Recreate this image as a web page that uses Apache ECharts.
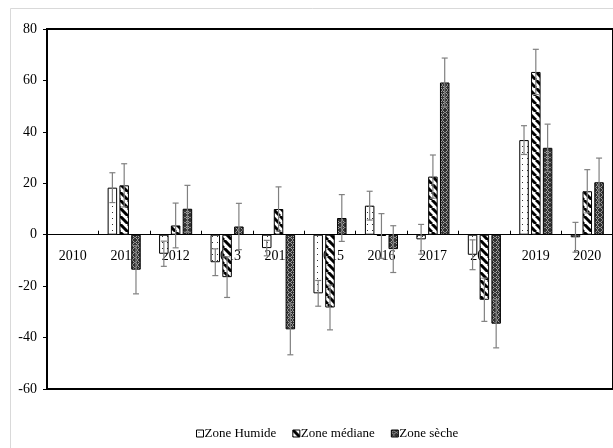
<!DOCTYPE html>
<html>
<head>
<meta charset="utf-8">
<script src="https://cdn.jsdelivr.net/npm/echarts@6/dist/echarts.min.js"></script>
<style>html,body{margin:0;padding:0;background:#fff}#c{width:613px;height:448px}</style>
</head>
<body>
<div id="c"></div>
<script>
const categories = ['2010','2011','2012','2013','2014','2015','2016','2017','2018','2019','2020'];
const yTicks = [-60,-40,-20,0,20,40,60,80];
const seriesNames = ['Zone Humide','Zone médiane','Zone sèche'];
const humide    = [null, 18.3, -7.4, -10.7, -5.2, -22.8, 11.3, -1.8, -7.8, 36.8, -1.0];
const humideErr = [null, 5.8, 4.9, 5.2, 3.0, 5.0, 5.6, 5.8, 5.8, 5.6, 5.8];
const mediane    = [null, 19.2, 3.6, -16.5, 10.0, -28.3, -0.5, 22.6, -25.3, 63.3, 16.9];
const medianeErr = [null, 8.4, 8.7, 7.9, 8.6, 8.7, 8.7, 8.4, 8.4, 8.8, 8.4];
const seche    = [null, -13.6, 10.1, 3.2, -36.8, 6.5, -5.6, 59.2, -34.6, 33.8, 20.4];
const secheErr = [null, 9.4, 9.1, 9.0, 9.9, 9.1, 9.1, 9.5, 9.4, 9.2, 9.4];

function makePattern(w, h, draw){
  const c = document.createElement('canvas'); c.width = w; c.height = h;
  const g = c.getContext('2d'); draw(g, w, h); return c;
}
const patHumide = makePattern(5, 6, (g,w,h)=>{ g.fillStyle='#fff'; g.fillRect(0,0,w,h); g.fillStyle='#333'; g.fillRect(2,2,1,1); });
const patMediane = makePattern(8, 8, (g,w,h)=>{
  g.fillStyle='#fff'; g.fillRect(0,0,w,h);
  g.strokeStyle='#000'; g.lineWidth=3;
  for (let k=-1;k<=1;k++){ g.beginPath(); g.moveTo(k*w, 0); g.lineTo(k*w+w, h); g.stroke(); }
});
const patSeche = makePattern(5, 5, (g,w,h)=>{
  g.fillStyle='#333'; g.fillRect(0,0,w,h);
  g.strokeStyle='#a8a8a8'; g.lineWidth=1;
  g.beginPath(); g.moveTo(2.5,0.5); g.lineTo(4.5,2.5); g.lineTo(2.5,4.5); g.lineTo(0.5,2.5); g.closePath(); g.stroke();
});
const pats = [patHumide, patMediane, patSeche];
const values = [humide, mediane, seche];
const errs = [humideErr, medianeErr, secheErr];

const BW = 9.5, GAP = 2.3;
const font = 'Liberation Serif';

const series = [];
values.forEach((vals, i) => {
  series.push({
    name: seriesNames[i], type: 'bar', data: vals,
    barWidth: BW, barGap: (GAP/BW*100).toFixed(1)+'%',
    itemStyle: { color: {image: pats[i], repeat: 'repeat'}, borderColor: '#000', borderWidth: 1 },
    emphasis: {disabled: true}, z: 2
  });
});
values.forEach((vals, i) => {
  const off = (i - 1) * (BW + GAP);
  series.push({
    type: 'custom', name: 'err' + i, z: 4, silent: true,
    data: vals.map((v, k) => v == null ? [k, null, null] : [k, v, errs[i][k]]),
    renderItem: function(params, api){
      const v = api.value(1), e = api.value(2);
      if (v == null || isNaN(v)) return;
      const k = api.value(0);
      const t = api.coord([k, v + e]), b = api.coord([k, v - e]);
      const x = t[0] + off, cap = 3;
      const st = {stroke: '#808080', lineWidth: 1.2};
      return {type: 'group', children: [
        {type:'line', shape:{x1:x, y1:t[1], x2:x, y2:b[1]}, style: st},
        {type:'line', shape:{x1:x-cap, y1:t[1], x2:x+cap, y2:t[1]}, style: st},
        {type:'line', shape:{x1:x-cap, y1:b[1], x2:x+cap, y2:b[1]}, style: st}
      ]};
    }
  });
});

const chart = echarts.init(document.getElementById('c'), null, {renderer: 'canvas'});
chart.setOption({
  animation: false,
  backgroundColor: '#fff',
  graphic: [{type: 'rect', shape: {x: 10.5, y: 8.5, width: 700, height: 600}, style: {fill: 'none', stroke: '#d9d9d9', lineWidth: 1}, z: -10}],
  grid: {left: 47, top: 29, width: 567, height: 360, show: true, borderColor: '#000', borderWidth: 2, backgroundColor: 'transparent'},
  legend: {
    data: seriesNames, left: 191, top: 422, itemWidth: 7, itemHeight: 7, itemGap: 16, icon: 'rect',
    itemStyle: {borderColor: '#000', borderWidth: 1},
    textStyle: {fontFamily: font, fontSize: 13, color: '#000', padding: [0,0,0,-4]},
    selectedMode: false
  },
  xAxis: {
    type: 'category', data: categories,
    axisLine: {onZero: true, lineStyle: {color: '#000', width: 1.2}},
    axisTick: {show: true, inside: true, length: 4, lineStyle: {color: '#000'}},
    axisLabel: {fontFamily: font, fontSize: 14, color: '#000', margin: -140},
    splitLine: {show: false}
  },
  yAxis: {
    type: 'value', min: -60, max: 80, interval: 20,
    axisLine: {show: true, lineStyle: {color: '#000', width: 2}},
    axisTick: {show: true, inside: false, length: 4, lineStyle: {color: '#000'}},
    axisLabel: {fontFamily: font, fontSize: 14, color: '#000', margin: 10,
      formatter: v => yTicks.includes(v) ? String(v) : ''},
    splitLine: {show: false}
  },
  series: series
});
</script>
</body>
</html>
